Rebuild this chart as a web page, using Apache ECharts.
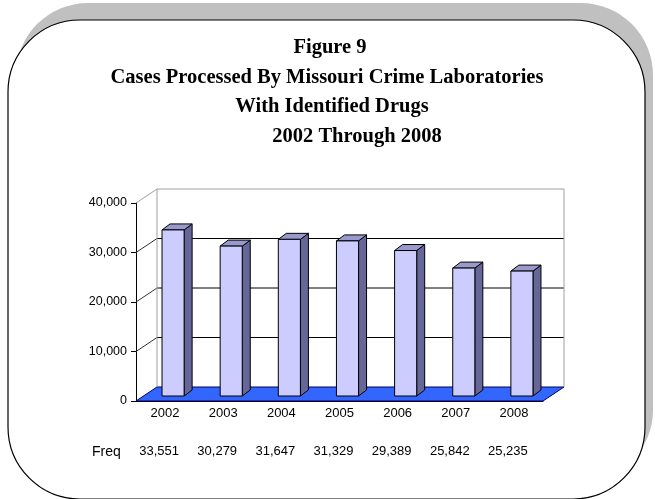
<!DOCTYPE html>
<html>
<head>
<meta charset="utf-8">
<script src="https://cdn.jsdelivr.net/npm/echarts@6/dist/echarts.min.js"></script>
<style>
  html, body { margin: 0; padding: 0; background: #fff; }
  #chart { width: 655px; height: 499px; }
</style>
</head>
<body>
<div id="chart"></div>
<script>
// chart data
var years = ['2002', '2003', '2004', '2005', '2006', '2007', '2008']
var freq = [33551, 30279, 31647, 31329, 29389, 25842, 25235]
var yTicks = [0, 10000, 20000, 30000, 40000]
var titleLines = ['Figure 9', 'Cases Processed By Missouri Crime Laboratories', 'With Identified Drugs', '2002 Through 2008']

var DEPTH = [21, -14] // depth of the 3d box
var BAR_OFF = [8, -5] // bar placed a little into the box
var BAR_DEPTH = [8, -6]

function fmt (v) {
  return v.toLocaleString('en-US')
}

var chart = echarts.init(document.getElementById('chart'))

// back wall, side wall lines and floor
function renderWalls (params, api) {
  var c0 = api.coord([0, 0])
  var band = api.size([1, 0])[0]
  var left = c0[0] - band / 2
  var right = left + band * years.length
  var y0 = c0[1]
  var dx = DEPTH[0]
  var dy = DEPTH[1]
  var children = []
  children.push({
    type: 'polygon',
    shape: { points: [[left, y0], [right, y0], [right + dx, y0 + dy], [left + dx, y0 + dy]] },
    style: { fill: '#3366FF', stroke: '#000066', lineWidth: 1 }
  })
  yTicks.forEach(function (t) {
    var y = api.coord([0, t])[1]
    if (t === 0) return
    var last = t === yTicks[yTicks.length - 1]
    children.push({
      type: 'line',
      shape: { x1: left + dx, y1: y + dy, x2: right + dx, y2: y + dy },
      style: { stroke: last ? '#a0a0a0' : '#000', lineWidth: 1 }
    })
    children.push({
      type: 'line',
      shape: { x1: left, y1: y, x2: left + dx, y2: y + dy },
      style: { stroke: last ? '#a0a0a0' : '#333', lineWidth: 1 }
    })
  })
  var yTop = api.coord([0, yTicks[yTicks.length - 1]])[1]
  children.push({
    type: 'line',
    shape: { x1: left + dx, y1: yTop + dy, x2: left + dx, y2: y0 + dy },
    style: { stroke: '#a0a0a0', lineWidth: 1 }
  })
  children.push({
    type: 'line',
    shape: { x1: right + dx, y1: yTop + dy, x2: right + dx, y2: y0 + dy },
    style: { stroke: '#a0a0a0', lineWidth: 1 }
  })
  return { type: 'group', children: children }
}

function renderBar (params, api) {
  var i = api.value(0)
  var v = api.value(1)
  var base = api.coord([i, 0])
  var top = api.coord([i, v])
  var band = api.size([1, 0])[0]
  var w = band * 0.38
  var l = base[0] - w / 2 + BAR_OFF[0]
  var r = l + w
  var b = base[1] + BAR_OFF[1]
  var t = top[1] + BAR_OFF[1]
  var dx = BAR_DEPTH[0]
  var dy = BAR_DEPTH[1]
  var line = { stroke: '#000', lineWidth: 1 }
  return {
    type: 'group',
    children: [
      {
        type: 'polygon',
        shape: { points: [[r, b], [r + dx, b + dy], [r + dx, t + dy], [r, t]] },
        style: Object.assign({ fill: '#666699' }, line)
      },
      {
        type: 'polygon',
        shape: { points: [[l, t], [r, t], [r + dx, t + dy], [l + dx, t + dy]] },
        style: Object.assign({ fill: '#9999CC' }, line)
      },
      {
        type: 'rect',
        shape: { x: l, y: t, width: w, height: b - t },
        style: Object.assign({ fill: '#CCCCFF' }, line)
      }
    ]
  }
}

var titleY = [48, 78, 107, 137]
var titleX = [330, 327, 332, 357]
var graphics = [
  {
    type: 'rect', z: -10, silent: true,
    shape: { x: 16, y: 3, width: 637, height: 479, r: 72 },
    style: { fill: '#C0C0C0' }
  },
  {
    type: 'rect', z: -9, silent: true,
    shape: { x: 8, y: 20, width: 637, height: 479, r: 72 },
    style: { fill: '#fff', stroke: '#000', lineWidth: 1.2 }
  },
  {
    type: 'text', left: 92, top: 445,
    style: { text: 'Freq', font: '14px "Liberation Sans", Arial', fill: '#000' }
  }
]
titleLines.forEach(function (s, k) {
  graphics.push({
    type: 'text',
    x: titleX[k],
    y: titleY[k],
    style: {
      text: s,
      font: 'bold 20.5px "Liberation Serif", "Times New Roman", serif',
      fill: '#000',
      align: 'center',
      verticalAlign: 'middle'
    }
  })
})

var option = {
  animation: false,
  graphic: graphics,
  grid: {
    left: 136,
    right: 112,
    top: 203,
    bottom: 98
  },
  xAxis: [{
    type: 'category',
    data: years,
    axisLine: { lineStyle: { color: '#000' } },
    axisTick: { show: false },
    axisLabel: {
      color: '#000',
      fontSize: 13,
      fontFamily: 'Liberation Sans, Arial',
      margin: 6
    }
  }, {
    type: 'category',
    data: years,
    position: 'bottom',
    offset: 38,
    axisLine: { show: false },
    axisTick: { show: false },
    axisLabel: {
      color: '#000',
      fontSize: 13,
      fontFamily: 'Liberation Sans, Arial',
      margin: 6,
      padding: [0, 12, 0, 0],
      formatter: function (v, i) {
        return fmt(freq[i])
      }
    }
  }],
  yAxis: {
    type: 'value',
    min: yTicks[0],
    max: yTicks[yTicks.length - 1],
    interval: 10000,
    axisLine: { show: true, lineStyle: { color: '#000' } },
    axisTick: { show: true, length: 5, lineStyle: { color: '#000' } },
    splitLine: { show: false },
    axisLabel: {
      color: '#000',
      fontSize: 12.5,
      fontFamily: 'Liberation Sans, Arial',
      margin: 9,
      formatter: function (v) {
        return fmt(v)
      }
    }
  },
  series: [{
    type: 'custom',
    z: 1,
    clip: false,
    silent: true,
    renderItem: renderWalls,
    data: [[0, 0]]
  }, {
    type: 'custom',
    z: 3,
    clip: false,
    renderItem: renderBar,
    encode: { x: 0, y: 1 },
    data: freq.map(function (v, i) { return [i, v] })
  }]
}
chart.setOption(option, true)
</script>
</body>
</html>
